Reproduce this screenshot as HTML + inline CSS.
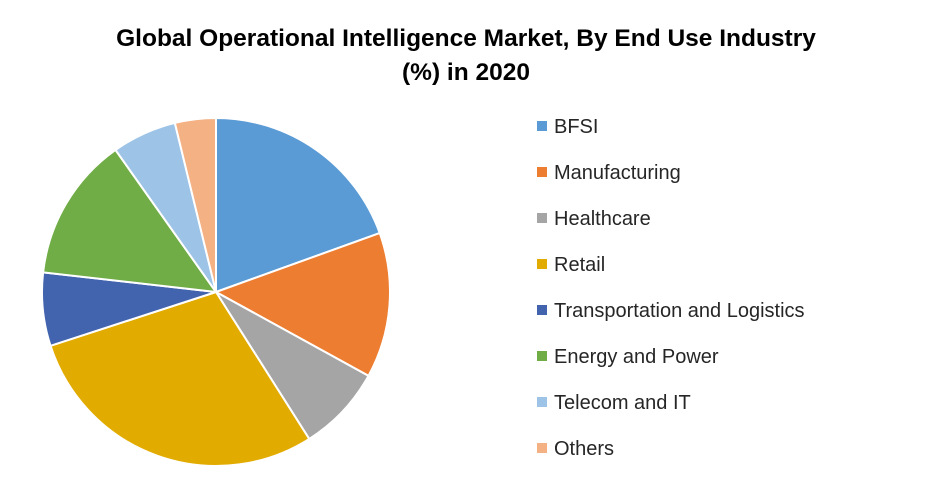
<!DOCTYPE html>
<html><head><meta charset="utf-8">
<style>
body{margin:0;background:#fff;width:933px;height:484px;overflow:hidden;font-family:"Liberation Sans",Arial,sans-serif;}
</style></head>
<body>
<svg id="chart" width="933" height="484" xmlns="http://www.w3.org/2000/svg">
<text x="466" y="46" text-anchor="middle" font-size="24.5" font-weight="bold" fill="#000">Global Operational Intelligence Market,  By End Use Industry</text>
<text x="466" y="80" text-anchor="middle" font-size="24.5" font-weight="bold" fill="#000">(%) in 2020</text>
<g id="slices"></g>
<g id="legend"></g>
</svg>
<script>
const categories=["BFSI","Manufacturing","Healthcare","Retail","Transportation and Logistics","Energy and Power","Telecom and IT","Others"];
const values=[19.5,13.5,8,29,6.8,13.4,6,3.8];
const colors=["#5b9bd5","#ed7d31","#a5a5a5","#e2ab00","#4264ae","#70ad47","#9dc3e6","#f4b183"];
const cx=216,cy=292,r=174;
const ns="http://www.w3.org/2000/svg";
const total=values.reduce((a,b)=>a+b,0);
const sg=document.getElementById('slices');
let a0=0;
values.forEach((v,i)=>{
  const a1=a0+v/total*2*Math.PI;
  const x0=cx+r*Math.sin(a0),y0=cy-r*Math.cos(a0),x1=cx+r*Math.sin(a1),y1=cy-r*Math.cos(a1);
  const p=document.createElementNS(ns,'path');
  p.setAttribute('d',`M${cx},${cy}L${x0},${y0}A${r},${r} 0 ${a1-a0>Math.PI?1:0} 1 ${x1},${y1}Z`);
  p.setAttribute('fill',colors[i]);p.setAttribute('stroke','#fff');p.setAttribute('stroke-width','2');
  
  
  sg.appendChild(p);a0=a1;
});
const lg=document.getElementById('legend');
categories.forEach((c,i)=>{
  const y=126+i*46;
  const g=document.createElementNS(ns,'g');
  
  
  const s=document.createElementNS(ns,'rect');
  s.setAttribute('x',537);s.setAttribute('y',y-5);s.setAttribute('width',10);s.setAttribute('height',10);s.setAttribute('fill',colors[i]);
  const t=document.createElementNS(ns,'text');
  t.setAttribute('x',554);t.setAttribute('y',y+7);t.setAttribute('font-size','20');t.setAttribute('fill','#262626');
  t.textContent=c;
  g.appendChild(s);g.appendChild(t);lg.appendChild(g);
});
</script>
</body></html>
